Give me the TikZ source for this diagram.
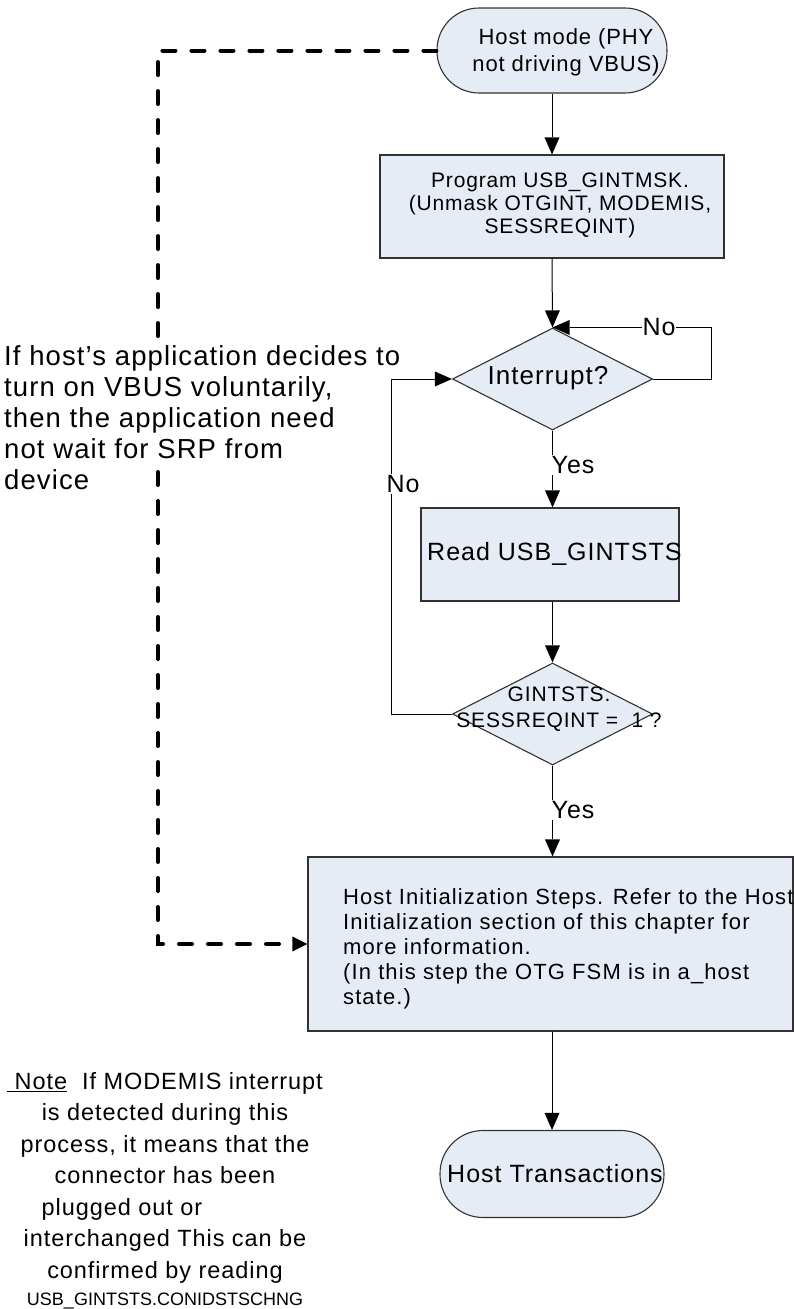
\documentclass[tikz,border=0pt]{standalone}
\usepackage{fontspec}
\setmainfont[LetterSpace=4]{Liberation Sans}
\newfontfamily\tightfont{Liberation Sans}
\usetikzlibrary{arrows.meta,shapes.geometric}
\definecolor{boxfill}{RGB}{230,236,246}
\definecolor{boxline}{RGB}{50,50,50}
\newcommand{\setfs}[2]{\fontsize{#1}{#2}\selectfont}
\begin{document}
\begin{tikzpicture}[x=1pt,y=-1pt,
  shapebox/.style={draw=boxline, fill=boxfill, line width=1.1pt, inner sep=0pt},
  conn/.style={draw=black, line width=1pt, -{Triangle[length=17pt,width=15pt,line width=0pt]}},
  dashconn/.style={draw=black, line width=4pt, dash pattern=on 13pt off 16pt, line cap=round},
  txt/.style={inner sep=0pt, text=black},
  lbl/.style={fill=white, inner sep=1pt, text=black, font=\setfs{25}{28}}]
\useasboundingbox (0,0) rectangle (794,1309);

% shapes
\node[shapebox, rounded corners=42pt, minimum width=230pt, minimum height=85pt] (t1) at (552,50.5) {};
\node[shapebox, minimum width=344pt, minimum height=103pt] (b1) at (552,206.5) {};
\node[shapebox, diamond, minimum width=200pt, minimum height=102pt] (d1) at (552.5,379) {};
\node[shapebox, minimum width=258pt, minimum height=93pt] (b2) at (550,554.5) {};
\node[shapebox, diamond, minimum width=200pt, minimum height=102pt] (d2) at (552.5,714) {};
\node[shapebox, minimum width=485pt, minimum height=174pt] (big) at (550.5,944) {};
\node[shapebox, rounded corners=43pt, minimum width=224pt, minimum height=87pt] (t2) at (552,1174) {};

% texts in shapes
\node[txt, font=\setfs{22}{27}, align=center] (t1t) at (566,52) {Host mode (PHY\\not driving VBUS)};
\node[txt, font=\setfs{21}{23}, align=center] (b1t) at (560,205) {Program USB\_GINTMSK.\\(Unmask OTGINT, MODEMIS,\\SESSREQINT)};
\node[txt, font=\setfs{26}{30}] (d1t) at (548,378) {Interrupt?};
\node[txt, font=\setfs{25}{28}, anchor=west] (b2t) at (427,554) {Read USB\_GINTSTS};
\node[txt, font=\setfs{21}{26}, align=center] (d2t) at (559,709) {GINTSTS.\\SESSREQINT =\ \ 1 ?};
\node[txt, font=\setfs{22}{25}\addfontfeature{LetterSpace=5}, align=left, anchor=north west] (bigt) at (343,888) {Host Initialization Steps. Refer to the Host\\Initialization section of this chapter for\\more information.\\(In this step the OTG FSM is in a\_host\\state.)};
\node[txt, font=\setfs{25}{28}, anchor=west] (t2t) at (447,1174) {Host Transactions};

% connectors
\draw[conn] (t1.south) -- (b1.north);
\draw[conn] (b1.south) -- (d1.north);
\draw[conn] (d1.south) -- (d1.south |- b2.north);
\draw[conn] (d2.north |- b2.south) -- (d2.north);
\draw[conn] (d2.south) -- (d2.south |- big.north);
\draw[conn] (t2.north |- big.south) -- (t2.north);
\draw[conn] (d1.east) -- ++(58,0) |- (d1.north);
\draw[conn] (d2.west) -- ++(-60,0) |- (d1.west);

% dashed connector
\coordinate (dA) at (158,338);
\coordinate (dB) at (158,472);
\draw[dashconn] (t1.west) -| (dA);
\draw[dashconn, -{Triangle[length=15pt,width=15pt,line width=0pt]}] (dB) |- (big.west);

% labels
\node[lbl] (yes1) at (573,465) {Yes};
\node[lbl] (yes2) at (573,810) {Yes};
\node[lbl, inner sep=0.5pt] (no1) at (659,327) {No};
\node[lbl] (no2) at (403,484) {No};

% free texts
\node[txt, font=\setfs{27.5}{31}, align=left, anchor=north west] (hosttxt) at (4,345) {If host’s application decides to\\turn on VBUS voluntarily,\\then the application need\\not wait for SRP from\\device};
\node[txt, font=\setfs{23.5}{31.5}, align=center, anchor=north] (note) at (165,1072) {\underline{\ Note}\ \ If MODEMIS interrupt\\is detected during this\\process, it means that the\\connector has been\\plugged out or\hspace{86pt}\mbox{}\\interchanged This can be\\confirmed by reading\\[-4pt]{\tightfont\fontsize{18}{20}\selectfont USB\_GINTSTS.CONIDSTSCHNG}};
\end{tikzpicture}
\end{document}
